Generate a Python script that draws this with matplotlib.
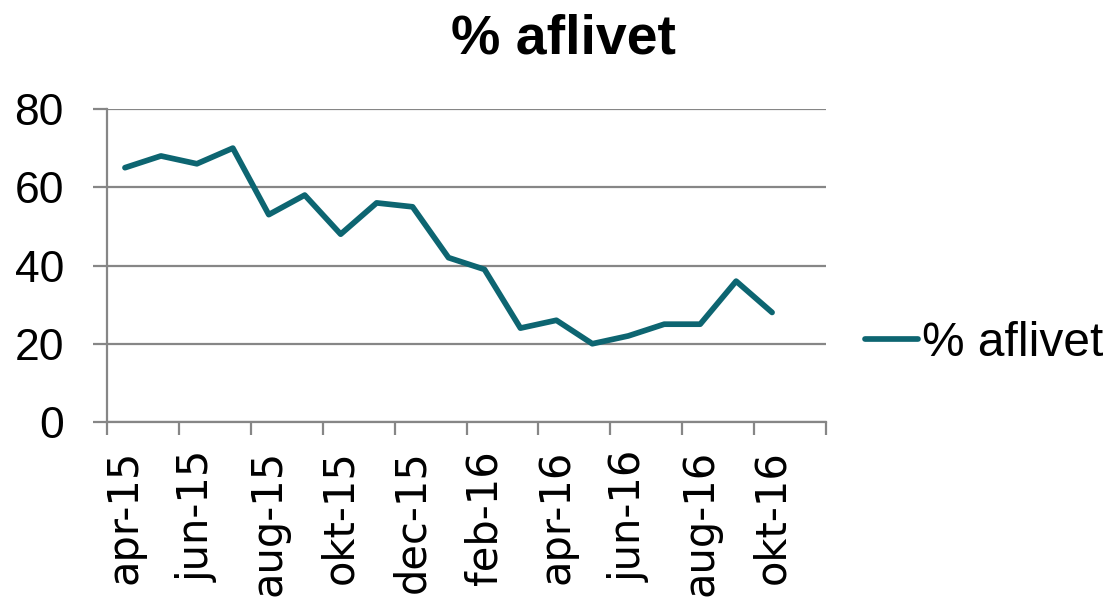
import matplotlib
matplotlib.use("Agg")
import matplotlib.pyplot as plt

months = ["apr-15", "maj-15", "jun-15", "jul-15", "aug-15", "sep-15", "okt-15",
          "nov-15", "dec-15", "jan-16", "feb-16", "mar-16", "apr-16", "maj-16",
          "jun-16", "jul-16", "aug-16", "sep-16", "okt-16", "nov-16"]
values = [65, 68, 66, 70, 53, 58, 48, 56, 55, 42, 39, 24, 26, 20, 22, 25, 25, 36, 28]
series_name = "% aflivet"
title = "% aflivet"
y_ticks = [0, 20, 40, 60, 80]

line_color = "#0D6571"
gray = "#868686"

fig = plt.figure(figsize=(11.11, 6.0), dpi=100)
W, H = 1111, 600
ax = fig.add_axes([107 / W, 1 - 422 / H, (826 - 107) / W, (422 - 109) / H])

x = list(range(len(values)))
ax.plot(x, values, color=line_color, lw=4.1, solid_capstyle="round",
        solid_joinstyle="round", label=series_name, zorder=3)

n = len(months)
ax.set_xlim(-0.5, n - 0.5)
ax.set_ylim(0, 80)

for s in ["top", "right"]:
    ax.spines[s].set_visible(False)
for s in ["left", "bottom"]:
    ax.spines[s].set_color(gray)
    ax.spines[s].set_linewidth(1.6)
ax.set_yticks(y_ticks)
ax.set_yticklabels([str(v) for v in y_ticks], fontsize=32, family="Liberation Sans")
ax.yaxis.grid(True, color=gray, lw=1.6)
ax.set_axisbelow(True)
ax.tick_params(axis="y", direction="out", length=10, width=1.6, color=gray, pad=21)

ax.set_xticks([i - 0.5 for i in range(0, n + 1, 2)])
ax.set_xticklabels([])
ax.tick_params(axis="x", which="major", direction="out", length=9.5, width=1.6, color=gray)
ax.set_xticks(list(range(0, n, 2)), minor=True)
ax.set_xticklabels([months[i] for i in range(0, n, 2)], minor=True, rotation=90,
                   fontsize=30, family="DejaVu Sans", va="top", ha="center")
ax.tick_params(axis="x", which="minor", length=0, pad=20)

fig.text(563 / W, 1 - 53 / H, title, ha="center", va="baseline", fontsize=40,
         fontweight="bold", family="Liberation Sans")

leg = fig.legend(handles=ax.get_lines(), labels=[series_name], loc="center left",
                 bbox_to_anchor=(865 / W, 1 - 343 / H), frameon=False,
                 prop={"family": "Liberation Sans", "size": 34.5},
                 handlelength=1.1, handletextpad=0.08, borderaxespad=0, borderpad=0)

fig.savefig("out.png", dpi=100)
